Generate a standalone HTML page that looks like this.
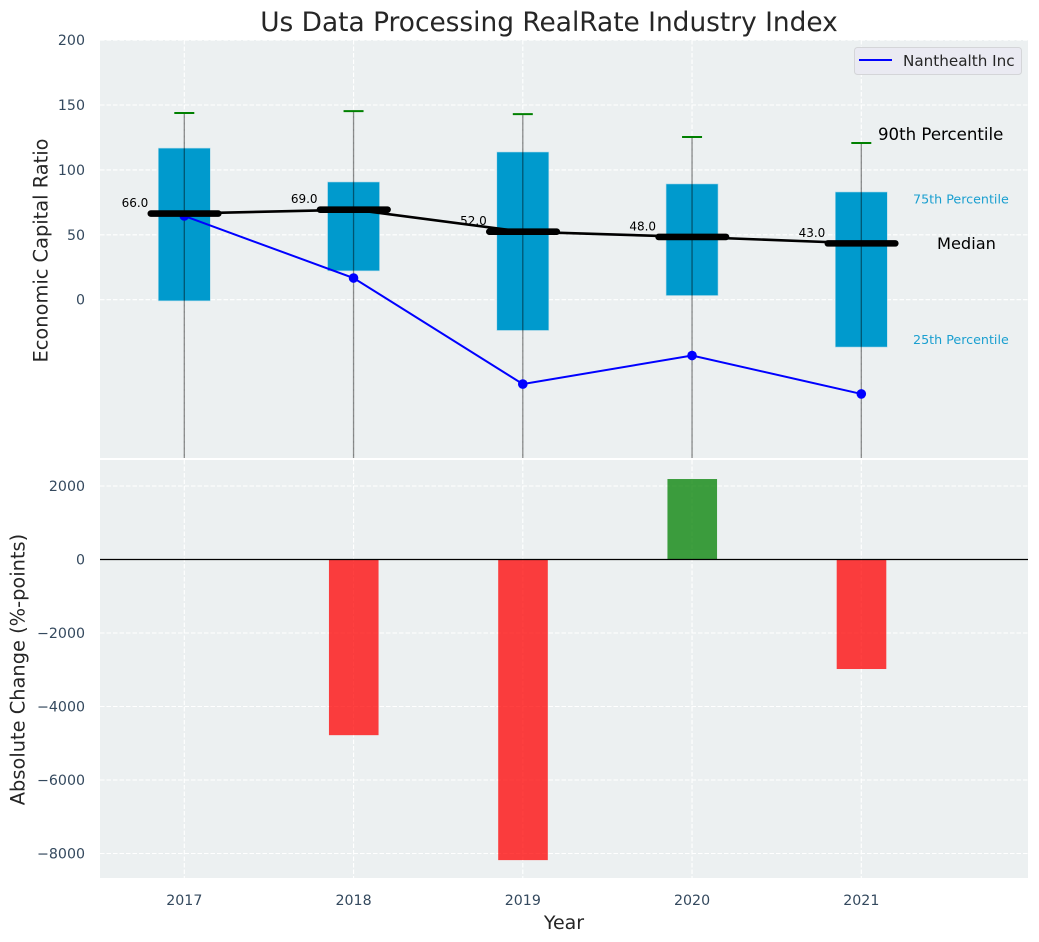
<!DOCTYPE html>
<html>
<head>
<meta charset="utf-8">
<title>Us Data Processing RealRate Industry Index</title>
<style>
html,body{margin:0;padding:0;background:#fff;}
svg{display:block;font-family:"DejaVu Sans","Liberation Sans",sans-serif;}
</style>
</head>
<body>
<svg id="chart" xmlns="http://www.w3.org/2000/svg" width="1039" height="942" viewBox="0 0 1039 942">
  <defs>
    <clipPath id="top-clip"><rect x="100" y="40" width="928" height="418"></rect></clipPath>
    <clipPath id="bottom-clip"><rect x="100" y="460" width="928" height="418"></rect></clipPath>
  </defs>
  <rect x="0" y="0" width="1039" height="942" fill="#ffffff"></rect>
  <text x="549" y="31" text-anchor="middle" font-size="26.4" fill="#262626">Us Data Processing RealRate Industry Index</text>
  <rect x="100" y="40" width="928" height="418" fill="#ecf0f1"></rect>
  <rect x="100" y="460" width="928" height="418" fill="#ecf0f1"></rect>
  <g id="top-grid"></g>
  <g id="bottom-grid"></g>
  <g id="top-marks" clip-path="url(#top-clip)"></g>
  <g id="bottom-marks" clip-path="url(#bottom-clip)"></g>
  <g id="labels"></g>
  <text transform="translate(47.5,250.5) rotate(-90)" text-anchor="middle" font-size="19.4" fill="#262626">Economic Capital Ratio</text>
  <text transform="translate(24.5,669.5) rotate(-90)" text-anchor="middle" font-size="19.4" fill="#262626">Absolute Change (%-points)</text>
  <text x="564" y="929" text-anchor="middle" font-size="19" fill="#262626">Year</text>
  <g>
    <rect x="854.5" y="47.5" width="167" height="27" rx="3" fill="#eaeaf2" stroke="#d4d5d8" stroke-width="1"></rect>
    <line x1="859" x2="892" y1="60" y2="60" stroke="#0000ff" stroke-width="2"></line>
    <text x="903" y="66" font-size="15.2" fill="#262626">Nanthealth Inc</text>
  </g>
</svg>
<script>
const years = [2017, 2018, 2019, 2020, 2021];
const p90 = [143.8, 145.3, 143, 125.3, 120.7];
const p75 = [116.8, 90.7, 113.8, 89.2, 83];
const medians = [66, 69, 52, 48, 43];
const p25 = [-0.9, 22.2, -23.7, 3.2, -36.5];
const p10 = [-180, -160, -190, -170, -200];
const company = [64.5, 16.7, -65, -43, -72.6];
const changes = [0, -4780, -8180, 2190, -2980];
const topTicks = [200, 150, 100, 50, 0];
const bottomTicks = [2000, 0, -2000, -4000, -6000, -8000];

const NS = 'http://www.w3.org/2000/svg';
const x = function (year) { return 184.3 + (year - 2017) * 169.25; };
const yTop = function (v) { return 299.7 - v * 1.298; };
const yBottom = function (v) { return 559.5 - v * 0.03675; };

function mk(parent, tag, attrs, text) {
  const el = document.createElementNS(NS, tag);
  Object.keys(attrs).forEach(function (k) { el.setAttribute(k, attrs[k]); });
  if (text !== undefined) { el.textContent = text; }
  document.getElementById(parent).appendChild(el);
  return el;
}

function fmtTick(v) { return String(v).replace('-', '\u2212'); }

topTicks.forEach(function (t) {
  const g = mk('top-grid', 'line', { x1: 100, x2: 1028, y1: yTop(t), y2: yTop(t), stroke: '#ffffff', 'stroke-width': 1.1, 'stroke-dasharray': '4.5 2' });
  
  
  const l = mk('labels', 'text', { x: 85, y: yTop(t) + 5, 'text-anchor': 'end', 'font-size': 14.2, fill: '#34495e' }, fmtTick(t));
  
  
});

bottomTicks.forEach(function (t) {
  const g = mk('bottom-grid', 'line', { x1: 100, x2: 1028, y1: yBottom(t), y2: yBottom(t), stroke: '#ffffff', 'stroke-width': 1.1, 'stroke-dasharray': '4.5 2' });
  
  
  const l = mk('labels', 'text', { x: 85, y: yBottom(t) + 5, 'text-anchor': 'end', 'font-size': 14.2, fill: '#34495e' }, fmtTick(t));
  
  
});

years.forEach(function (yr) {
  const a = mk('top-grid', 'line', { x1: x(yr), x2: x(yr), y1: 40, y2: 458, stroke: '#ffffff', 'stroke-width': 1.1, 'stroke-dasharray': '4.5 2' });
  
  
  const b = mk('bottom-grid', 'line', { x1: x(yr), x2: x(yr), y1: 460, y2: 878, stroke: '#ffffff', 'stroke-width': 1.1, 'stroke-dasharray': '4.5 2' });
  
  
  const l = mk('labels', 'text', { x: x(yr), y: 905, 'text-anchor': 'middle', 'font-size': 14.2, fill: '#34495e' }, String(yr));
  
  
});

/* boxes */
years.forEach(function (yr, i) {
  const box = mk('top-marks', 'rect', { x: x(yr) - 26, y: yTop(p75[i]), width: 52, height: yTop(p25[i]) - yTop(p75[i]), fill: '#009acd', stroke: '#b5dcea', 'stroke-width': 0.6 });
  
  
});

/* whiskers and 90th percentile caps */
years.forEach(function (yr, i) {
  const w = mk('top-marks', 'line', { x1: x(yr), x2: x(yr), y1: yTop(p90[i]), y2: yTop(p10[i]), stroke: '#000000', 'stroke-opacity': 0.45, 'stroke-width': 1.3 });
  
  
  const c = mk('top-marks', 'line', { x1: x(yr) - 10, x2: x(yr) + 10, y1: yTop(p90[i]), y2: yTop(p90[i]), stroke: '#008000', 'stroke-width': 2 });
  
  
});

/* company line and points */
const companyLine = mk('top-marks', 'polyline', {
  points: years.map(function (yr, i) { return x(yr) + ',' + yTop(company[i]); }).join(' '),
  fill: 'none', stroke: '#0000ff', 'stroke-width': 2
});


years.forEach(function (yr, i) {
  const p = mk('top-marks', 'circle', { cx: x(yr), cy: yTop(company[i]), r: 4.8, fill: '#0000ff' });
  
  
});

/* median connecting line, thick medians, labels */
const medianLine = mk('top-marks', 'polyline', {
  points: years.map(function (yr, i) { return x(yr) + ',' + (yTop(medians[i]) - 0.5); }).join(' '),
  fill: 'none', stroke: '#000000', 'stroke-width': 2.6
});


years.forEach(function (yr, i) {
  const m = mk('top-marks', 'line', { x1: x(yr) - 33.5, x2: x(yr) + 34, y1: yTop(medians[i]) - 0.5, y2: yTop(medians[i]) - 0.5, stroke: '#000000', 'stroke-width': 6.6, 'stroke-linecap': 'round' });
  
  
  const l = mk('top-marks', 'text', { x: x(yr) - 36, y: yTop(medians[i]) - 7, 'text-anchor': 'end', 'font-size': 12, fill: '#000000' }, medians[i].toFixed(1));
  
  
});

/* annotations follow the last year's values */
const lastIdx = years.length - 1;
const a90 = mk('labels', 'text', { x: 878, y: yTop(p90[lastIdx]) - 3, 'font-size': 16.6, fill: '#000000' }, '90th Percentile');


const a75 = mk('labels', 'text', { x: 913, y: yTop(p75[lastIdx]) + 11.5, 'font-size': 12.7, fill: '#1a9fd0' }, '75th Percentile');


const aMed = mk('labels', 'text', { x: 937, y: yTop(medians[lastIdx]) + 5, 'font-size': 16.2, fill: '#000000' }, 'Median');


const a25 = mk('labels', 'text', { x: 913, y: yTop(p25[lastIdx]) - 3, 'font-size': 12.7, fill: '#1a9fd0' }, '25th Percentile');



/* change bars */
years.forEach(function (yr, i) {
  const v = changes[i];
  const top = Math.min(yBottom(v), yBottom(0));
  const h = Math.abs(yBottom(v) - yBottom(0));
  const b = mk('bottom-marks', 'rect', { x: x(yr) - 24.6, y: top, width: 49.6, height: h, fill: v >= 0 ? '#008000' : '#ff0000', 'fill-opacity': 0.75 });
  
  
});
const zero = mk('bottom-marks', 'line', { x1: 100, x2: 1028, y1: yBottom(0), y2: yBottom(0), stroke: '#000000', 'stroke-width': 1.3 });


</script>
</body>
</html>
